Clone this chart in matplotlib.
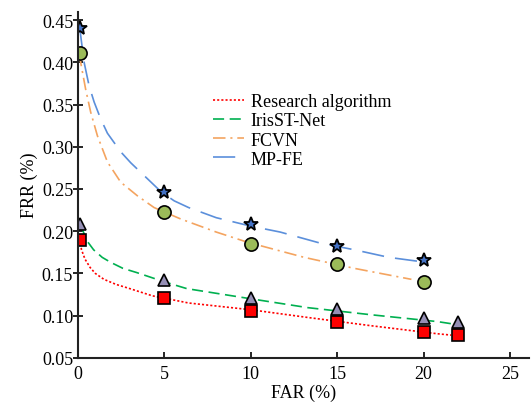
import numpy as np
import matplotlib.pyplot as plt

plt.rcParams['font.family'] = ['Liberation Serif', 'DejaVu Serif']
plt.rcParams['lines.scale_dashes'] = False

# marker values
far_pts = [0.1, 5, 10, 15, 20]
far_pts6 = [0.1, 5, 10, 15, 20, 22]
mpfe_pts = [0.440, 0.246, 0.209, 0.182, 0.166]
fcvn_pts = [0.411, 0.223, 0.185, 0.161, 0.140]
iris_pts = [0.208, 0.142, 0.121, 0.108, 0.097, 0.092]
ours_pts = [0.190, 0.121, 0.106, 0.093, 0.081, 0.077]

# fitted curves
mpfe_x = [0.1, 0.35, 0.64, 0.93, 1.31, 1.7, 2.47, 3.05, 3.92, 4.79, 5.56, 6.4, 8.0, 10.0, 11.7, 14.0, 16.0, 18.0, 20.2]
mpfe_y = [0.440, 0.400, 0.372, 0.353, 0.333, 0.316, 0.294, 0.281, 0.264, 0.247, 0.236, 0.228, 0.216, 0.206, 0.199, 0.186, 0.178, 0.169, 0.163]
fcvn_x = [0.1, 0.15, 0.44, 0.73, 1.12, 1.7, 2.47, 3.43, 4.4, 5.94, 8.0, 9.8, 13.1, 16.0, 19.3]
fcvn_y = [0.410, 0.400, 0.368, 0.341, 0.313, 0.282, 0.258, 0.242, 0.228, 0.2145, 0.199, 0.187, 0.169, 0.156, 0.143]
iris_x = [0.2, 0.5, 0.9, 1.4, 1.9, 2.6, 3.4, 5.0, 6.3, 10.0, 13.3, 17.0, 20.8, 21.6]
iris_y = [0.205, 0.189, 0.178, 0.169, 0.163, 0.156, 0.151, 0.140, 0.132, 0.120, 0.1095, 0.101, 0.093, 0.0905]
ours_x = [0.1, 0.2, 0.4, 0.7, 1.0, 1.5, 2.2, 3.0, 4.3, 5.3, 6.4, 10.0, 13.4, 17.0, 20.8, 21.6]
ours_y = [0.190, 0.178, 0.167, 0.157, 0.150, 0.143, 0.137, 0.132, 0.1235, 0.1195, 0.1150, 0.107, 0.0976, 0.088, 0.0786, 0.077]

fig = plt.figure(figsize=(5.31, 4.06), dpi=100)
ax = fig.add_axes([0.147, 0.116, 0.849, 0.853])

ax.plot(ours_x, ours_y, color='#FF0000', lw=1.2, dashes=(1.5, 1.5), label='Research algorithm')
ax.plot(iris_x, iris_y, color='#00B050', lw=1.2, dashes=(8, 4), label='IrisST-Net')
ax.plot(fcvn_x, fcvn_y, color='#F4A460', lw=1.2, dashes=(9, 3.5, 1.5, 3.5), label='FCVN')
ax.plot(mpfe_x, mpfe_y, color='#5B8FDB', lw=1.2, dashes=(16, 8), label='MP-FE')

ax.plot(far_pts, mpfe_pts, ls='', marker='*', ms=10, mfc='#4472C4', mec='black', mew=1.3)
ax.plot(far_pts, fcvn_pts, ls='', marker='o', ms=9.5, mfc='#9BBB59', mec='black', mew=1.2)
ax.plot(far_pts6, iris_pts, ls='', marker='^', ms=9, mfc='#958FB5', mec='black', mew=1.2)
ax.plot(far_pts6, ours_pts, ls='', marker='s', ms=8.5, mfc='#FF0000', mec='black', mew=1.2)

ax.set_xlim(0, 26.1)
ax.set_ylim(0.05, 0.46)
ax.set_xticks([0, 5, 10, 15, 20, 25])
ax.set_yticks(np.arange(0.05, 0.451, 0.05))
ax.set_yticklabels(['%.2f' % v for v in np.arange(0.05, 0.451, 0.05)])

for s in ['top', 'right']:
    ax.spines[s].set_visible(False)
for s in ['left', 'bottom']:
    ax.spines[s].set_linewidth(1.5)
    ax.spines[s].set_color('#222222')

ax.tick_params(axis='x', direction='in', length=4, width=1.2, labelsize=13, pad=5)
ax.tick_params(axis='y', direction='inout', length=7, width=1.2, labelsize=13, pad=0)

ax.set_xlabel('FAR (%)', fontsize=13, labelpad=1)
ax.set_ylabel('FRR (%)', fontsize=13, labelpad=3)

fig.legend(loc='upper left', bbox_to_anchor=(0.401, 0.768), frameon=False,
           fontsize=13, handlelength=1.7, handletextpad=0.4, labelspacing=0.12,
           borderpad=0, borderaxespad=0)

fig.savefig('out.png', dpi=100)
